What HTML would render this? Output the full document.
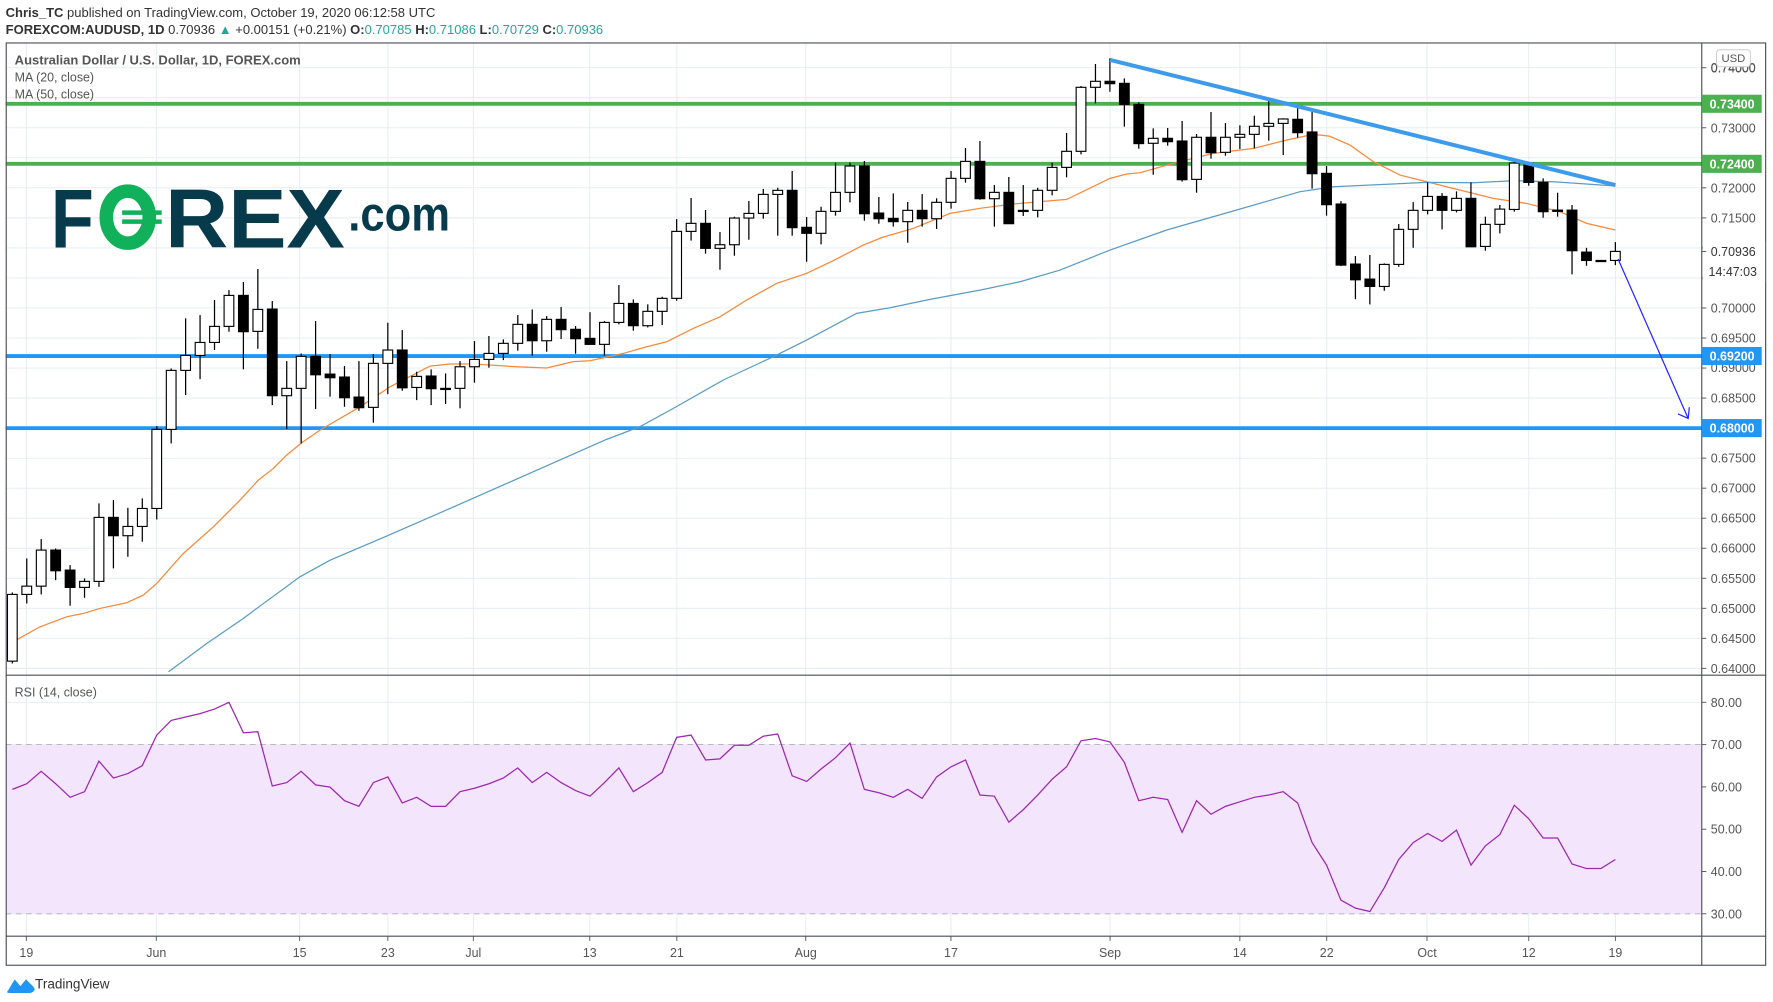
<!DOCTYPE html>
<html><head><meta charset="utf-8"><style>
html,body{margin:0;padding:0;background:#fff;}
svg{display:block;}
text{font-family:"Liberation Sans",Arial,sans-serif;}
</style></head><body>
<svg id="s" xmlns="http://www.w3.org/2000/svg" width="1773" height="1002" viewBox="0 0 1568 886" preserveAspectRatio="none">
<rect x="0" y="0" width="1568" height="886" fill="#fff"/>
<g id="grid"></g>
<rect x="5" y="658.4" width="1500" height="149.6" fill="#f3e5fb"/>
<line x1="5" y1="658.4" x2="1505" y2="658.4" stroke="#b0b0b8" stroke-dasharray="5,4" stroke-width="0.8"/>
<line x1="5" y1="808" x2="1505" y2="808" stroke="#b0b0b8" stroke-dasharray="5,4" stroke-width="0.8"/>
<!-- logo -->
<g font-weight="bold" fill="#073b4c">
<text x="45" y="219" font-size="74" textLength="38" lengthAdjust="spacingAndGlyphs">F</text>
<text x="146" y="219" font-size="74" textLength="159" lengthAdjust="spacingAndGlyphs">REX</text>
<text x="308" y="204" font-size="43" textLength="90" lengthAdjust="spacingAndGlyphs">.com</text>
</g>
<ellipse cx="113" cy="192" rx="19" ry="23" fill="none" stroke="#11b05a" stroke-width="12"/>
<line x1="108" y1="188" x2="143" y2="188" stroke="#11b05a" stroke-width="4"/>
<line x1="108" y1="196" x2="143" y2="196" stroke="#11b05a" stroke-width="4"/>
<g id="lines"></g>
<g id="candles"></g>
<line x1="981.7" y1="53" x2="1428.6" y2="163.6" stroke="#3d9be9" stroke-width="3.5"/>
<line x1="1431" y1="229" x2="1493" y2="370" stroke="#2727ff" stroke-width="1.1"/>
<polyline points="1484,366 1493,370 1494,360" fill="none" stroke="#2727ff" stroke-width="1.1"/>
<rect x="5.5" y="38" width="1556" height="815.5" fill="none" stroke="#4a4e59" stroke-width="1"/>
<line x1="1505" y1="38" x2="1505" y2="853.5" stroke="#4a4e59" stroke-width="1"/>
<line x1="5" y1="597" x2="1562" y2="597" stroke="#4a4e59" stroke-width="1"/>
<line x1="5" y1="827.8" x2="1562" y2="827.8" stroke="#4a4e59" stroke-width="1"/>
<g id="axis"></g>
<text x="5" y="15" font-size="11.5" fill="#333"><tspan font-weight="bold">Chris_TC</tspan> published on TradingView.com, October 19, 2020 06:12:58 UTC</text>
<text x="5" y="30" font-size="11.5" fill="#333"><tspan font-weight="bold">FOREXCOM:AUDUSD, 1D</tspan> 0.70936 <tspan fill="#26a69a">▲</tspan> +0.00151 (+0.21%) <tspan font-weight="bold">O:</tspan><tspan fill="#26a69a">0.70785</tspan> <tspan font-weight="bold">H:</tspan><tspan fill="#26a69a">0.71086</tspan> <tspan font-weight="bold">L:</tspan><tspan fill="#26a69a">0.70729</tspan> <tspan font-weight="bold">C:</tspan><tspan fill="#26a69a">0.70936</tspan></text>
<text x="13" y="57" font-size="11.5" fill="#555" font-weight="bold">Australian Dollar / U.S. Dollar, 1D, FOREX.com</text>
<text x="13" y="72" font-size="11" fill="#555">MA (20, close)</text>
<text x="13" y="87" font-size="11" fill="#555">MA (50, close)</text>
<text x="13" y="616" font-size="11" fill="#555">RSI (14, close)</text>
<path d="M7,876 L13,866 L18,872 L23,866 L29,872 Q33,876 27,878 L9,878 Q5,878 7,876Z" fill="#2196f3"/>
<text x="31" y="874" font-size="12" fill="#333">TradingView</text>
</svg>
<script>
(function(){
var NS="http://www.w3.org/2000/svg";
function el(p,t,a,txt){var e=document.createElementNS(NS,t);for(var k in a)e.setAttribute(k,a[k]);if(txt!==undefined)e.textContent=txt;document.getElementById(p).appendChild(e);return e;}
function py(p){return 113+(0.73-p)*5311;}
for(var i=0;i<=20;i++){var p=0.64+i*0.005;var y=py(p);if(y<40)continue;el("grid","line",{x1:5,y1:y,x2:1505,y2:y,stroke:"#e3ebf2","stroke-width":0.8});}
[80,70,60,50,40,30].forEach(function(r){var y=621+(80-r)*3.74;el("grid","line",{x1:5,y1:y,x2:1505,y2:y,stroke:"#e3ebf2","stroke-width":0.8});});
var vx=[23.3,138.2,265,343,418.6,521.6,598.6,712.6,841,981.7,1096.5,1173.3,1262,1352,1428.6];
var vl=["19","Jun","15","23","Jul","13","21","Aug","17","Sep","14","22","Oct","12","19"];
vx.forEach(function(x,i){el("grid","line",{x1:x,y1:38,x2:x,y2:827,stroke:"#e3ebf2","stroke-width":0.8});
 el("axis","line",{x1:x,y1:828,x2:x,y2:832,stroke:"#4a4e59","stroke-width":0.8});
 el("axis","text",{x:x,y:846,"font-size":11,fill:"#555","text-anchor":"middle"},vl[i]);});
var hide={"0.73500":1,"0.72500":1,"0.71000":1,"0.70500":1,"0.68000":1,"0.69000":1};
for(var i=0;i<=20;i++){var p=0.64+i*0.005;var y=py(p);if(y<50)continue;var s=p.toFixed(5);
 el("axis","line",{x1:1505,y1:y,x2:1509,y2:y,stroke:"#4a4e59","stroke-width":0.8});
 if(!hide[s]&&y>55)el("axis","text",{x:1513,y:y+4,"font-size":11,fill:"#555"},s);}
el("axis","text",{x:1513,y:329,"font-size":11,fill:"#555"},"0.69000");
el("axis","text",{x:1513,y:64,"font-size":11,fill:"#555"},"0.74000");
el("axis","rect",{x:1518,y:44,width:30,height:15,rx:3,fill:"#fff",stroke:"#ccc","stroke-width":0.8});
el("axis","text",{x:1533,y:55,"font-size":10,fill:"#555","text-anchor":"middle"},"USD");
[80,70,60,50,40,30].forEach(function(r){var y=621+(80-r)*3.74;
 el("axis","line",{x1:1505,y1:y,x2:1509,y2:y,stroke:"#4a4e59","stroke-width":0.8});
 el("axis","text",{x:1513,y:y+4,"font-size":11,fill:"#555"},r.toFixed(2));});
[[0.734,"#4caf50","0.73400"],[0.724,"#4caf50","0.72400"],[0.692,"#2196f3","0.69200"],[0.68,"#2196f3","0.68000"]].forEach(function(a){
 var y=py(a[0]);el("lines","line",{x1:5,y1:y,x2:1505,y2:y,stroke:a[1],"stroke-width":3.4});
 el("axis","rect",{x:1505,y:y-8,width:53,height:16,fill:a[1]});
 el("axis","text",{x:1512,y:y+4,"font-size":11,fill:"#fff","font-weight":"bold"},a[2]);});
el("axis","rect",{x:1506,y:214,width:55,height:36,fill:"#fff"});
el("axis","line",{x1:1505,y1:222.3,x2:1509,y2:222.3,stroke:"#4a4e59","stroke-width":0.8});
el("axis","text",{x:1513,y:226.5,"font-size":11,fill:"#333"},"0.70936");
el("axis","text",{x:1511,y:244,"font-size":11,fill:"#333"},"14:47:03");
var ma20="15.3,565.4 35.4,554.2 59,545.4 73.7,542.4 88.4,538 112,533 126.8,526.2 138.6,515.9 162.1,489.4 188.7,465.8 212.3,442.2 228.5,424.5 241.7,414.2 253.5,402.4 266.8,391.5 283,380.3 318.4,359.7 345,342 380.3,323.7 398,321.9 418.6,321.9 456.9,324.3 483.4,325.4 507,319.8 521.8,319 551.2,312.5 571.9,306.6 589.6,302.2 613.1,290.4 636.7,280.1 660.3,265.3 686.8,250.6 713.4,241.7 736.9,230.5 763.5,216.7 780,210 807.8,201.9 840.2,188.7 866.7,184.2 896.2,180.4 943.4,176.3 981.7,157.7 996.5,153.9 1008.2,152.7 1037.7,144.4 1073.1,135.6 1108.5,131.2 1138,123.8 1158.6,119.4 1167.4,119.4 1176,120.5 1193.9,128.3 1214.6,143 1238.1,154.8 1261.7,160.7 1291.2,168.1 1320.7,175.4 1350.2,179.9 1379.6,187.2 1403.2,197.5 1428.6,203.4";
var ma50="149,594 151.8,592 182.8,569 215.2,546.9 229.9,535.9 265.3,510 291.9,495.3 342,474 398,449.6 536.5,388.5 566,377.3 595.5,361.1 639.7,336 683.9,315.4 713.4,300.7 757.6,277.1 787.1,272.1 822.5,264.7 866.7,256.5 902.1,249.1 937.5,238.8 981.7,221.1 1031.8,203.4 1093.7,185.7 1149.7,169.5 1179.2,165.1 1261.7,161.3 1303,161.6 1338.4,159.8 1373.7,160.7 1428.6,164.5";
el("lines","polyline",{points:ma20,fill:"none",stroke:"#f7893b","stroke-width":1.1});
el("lines","polyline",{points:ma50,fill:"none",stroke:"#5b9bc4","stroke-width":1.1});
var C=[[525.6,584.6,523.9,586.6,0],[518.3,525.6,493.8,533.6,0],[486.4,518.3,476.7,525.6,0],[486.4,504.7,485,513,1],[504.1,519.4,499.7,535.6,1],[514.1,519.4,511.5,528.6,0],[457.5,514.1,445.1,518.9,0],[457.5,473.7,442.2,502.6,1],[465.5,473.7,449,492.3,0],[449.6,465.5,440.7,479,0],
[379.7,449.6,376.8,459.3,0],[327.5,379.7,325.8,392.1,0],[314.3,327.5,281.5,349.3,0],[302.8,314.3,278.6,335.2,0],[288.6,302.8,265.3,309.5,0],[261.2,288.6,256.5,293.3,0],[261.2,293.3,249.4,326.6,1],[273.6,293,237.9,308.4,0],[273.3,349.9,266.2,358.2,1],[343.4,349.9,319.3,379.4,0],
[315.1,343.4,312.5,392.1,0],[315.1,331.4,283.9,361.7,1],[330.8,334,313.1,350.8,1],[333.4,351.7,323.7,359.7,1],[351.1,360.5,319.3,363.2,1],[321.3,360.2,313.1,373.8,0],[309.5,321.3,285.4,348.5,0],[309.5,342.9,291.9,345.5,1],[332.8,342.6,328.7,353.8,0],[332.5,343.7,326.6,358.2,1],
[343.4,343.4,330.2,357.3,1],[324.3,343.4,319.3,361.1,0],[317.8,324.3,301.6,338.4,0],[312.5,317.8,297.1,325.1,0],[303.6,312.5,300.1,318.4,0],[286.8,303.6,278.6,310.1,0],[286.8,301.3,273.6,314.5,1],[282.4,301.3,279.5,311,0],[282.4,291.5,271.5,299.8,1],[291.2,299.5,288.3,312.8,1],
[299.2,304.5,276,304.5,1],[285.1,304.5,283.9,314.5,0],[268.3,285.1,252,286.8,0],[268.3,288,264.7,292.4,1],[275.3,288,269.1,289.5,0],[263.8,275.3,262.4,287.4,0],[204.6,263.8,193.7,265.9,0],[197.5,204.6,175.1,212.8,0],[197.5,219.6,185.7,224.3,1],[216.4,219.6,205.2,238.5,0],
[192.8,216.4,191.6,226.1,0],[188.7,192.8,177.7,212,0],[171.9,188.7,167.1,193.4,0],[168.3,171.9,166,208.4,0],[168.3,201.3,151.2,208.4,1],[201,206.3,191.9,231.4,1],[186.9,206.3,182.8,216.1,0],[170.1,186.9,143.8,190.7,0],[146.8,170.1,143.8,178.9,0],[146.8,189,142.4,195.1,1],
[188.4,193.4,174.2,197.8,1],[193.1,196,171,200.4,1],[186,196,178.6,214.6,0],[186,193.4,171.6,200.4,1],[178.9,193.4,175.4,202.5,0],[157.7,178.9,151.2,184.5,0],[142.7,157.7,130.9,161.5,0],[142.7,175.7,124.7,176.6,1],[170.1,175.7,163.6,200.4,0],[170.1,197.8,156.5,197.8,1],
[186,186,163.6,191,1],[168.3,186,166,192.2,0],[148,168.3,143.8,172.7,0],[133.8,148,117.6,156.8,0],[77.2,133.8,76,136.5,0],[71.9,77.2,56.6,91.4,0],[71.9,74,51.6,81.1,1],[73.7,92.3,69.3,112,1],[92.3,127,90.5,131.5,1],[122.3,126.7,113.5,154.5,0],
[122.3,125.3,113.2,128.8,1],[124.7,158.9,107,160.6,1],[121.4,158.6,118.5,170.4,0],[121.4,135,99,140.3,1],[121.4,134.7,108.8,137.7,0],[118.8,121.4,110.8,131.8,0],[111.7,118.8,102.3,131.2,0],[109.1,111.7,88.4,124.4,0],[105.2,109.1,104.6,137.1,0],[105.5,117.3,94.3,121.7,1],
[116.7,153.6,98.7,166.8,1],[153.3,181,146.8,190.7,1],[180.4,234.4,177.8,235.3,1],[233.5,247.4,226.4,264.5,1],[246.8,253.3,225.5,269.2,1],[233.8,253.3,232.9,257.1,0],[202.8,233.8,198.1,235.9,0],[186,202.8,178.7,219.1,0],[173.7,186,161.3,189.6,0],[173.7,186,170.7,202.8,1],
[175.4,186,169.2,187.8,0],[175.4,218.2,161.3,218.2,1],[198.4,217.9,191.6,221.7,0],[184.9,198.4,181.3,206.4,0],[144.2,185.2,142.4,187.2,0],[144.2,161.3,144.2,164.2,1],[161.3,187.2,157.7,192.5,1],[185.8,186.9,170.4,191.6,1],[185.8,221.7,181.3,242.6,1],[222.9,230.3,219.1,235,1],
[230.3,230.3,230.3,230.3,1],[222.3,230.3,214.1,234.4,0]];
var w=8.6;
C.forEach(function(c,k){var x=10.9+12.772*k;
 el("candles","line",{x1:x,y1:c[2],x2:x,y2:c[3],stroke:"#000","stroke-width":1.1});
 var h=Math.max(c[1]-c[0],1);
 el("candles","rect",{x:x-w/2,y:c[0],width:w,height:h,fill:c[4]?"#000":"#fff",stroke:"#000","stroke-width":1});});
var R=[698,693,682,693,705,700,673,688,684,677,650,637,634,631,627,621,648,647,695,692,682,694,696,708,713,692,687,710,705,713,713,700,697,693,688,679,692,683,692,699,704,692,679,700,692,683,652,650,672,671,659,659,651,649,686,691,680,670,657,698,701,705,698,706,687,678,672,703,704,727,716,703,689,678,655,653,656,674,708,705,707,736,708,720,713,709,705,703,700,710,745,765,796,803,806,785,760,745,737,744,734,765,748,738,712,724,741,741,764,768,768,760];
var pts=R.map(function(y,k){return (10.9+12.772*k).toFixed(1)+","+y;}).join(" ");
el("lines","polyline",{points:pts,fill:"none",stroke:"#9c27b0","stroke-width":1.1});
})();
</script>
</body></html>
